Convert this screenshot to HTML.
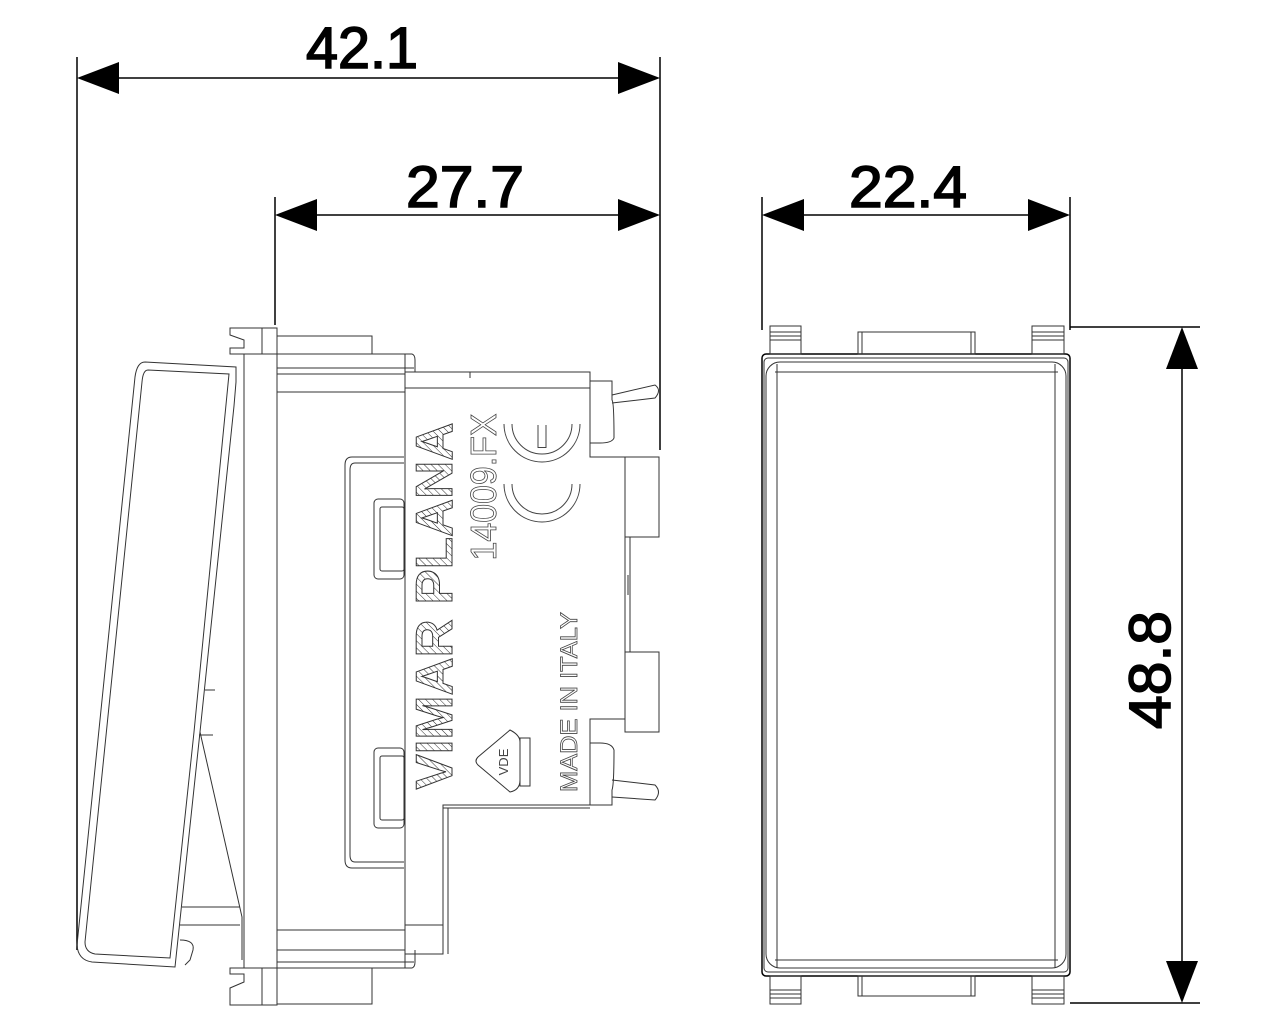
<!DOCTYPE html>
<html><head><meta charset="utf-8"><style>html,body{margin:0;padding:0;background:#fff}svg{display:block}</style></head>
<body>
<svg width="1280" height="1024" viewBox="0 0 1280 1024" xmlns="http://www.w3.org/2000/svg">
<defs>
<pattern id="h" width="5" height="5" patternUnits="userSpaceOnUse" patternTransform="rotate(45)"><rect width="5" height="5" fill="#fff"/><line x1="0" y1="0" x2="0" y2="5" stroke="#333" stroke-width="1"/></pattern>
</defs>
<g stroke="#000" stroke-width="1.5" fill="none">
<line x1="77" y1="57" x2="77" y2="950"/><line x1="660" y1="57" x2="660" y2="450"/>
<line x1="100" y1="78" x2="640" y2="78"/>
<line x1="275" y1="197" x2="275" y2="325"/>
<line x1="300" y1="215" x2="640" y2="215"/>
<line x1="762" y1="197" x2="762" y2="330"/><line x1="1070" y1="197" x2="1070" y2="330"/>
<line x1="790" y1="215" x2="1040" y2="215"/>
<line x1="1070" y1="327" x2="1200" y2="327"/><line x1="1070" y1="1003" x2="1200" y2="1003"/>
<line x1="1182" y1="350" x2="1182" y2="980"/>
</g>
<g fill="#000">
<polygon points="77,78 119,62 119,94"/><polygon points="660,78 618,62 618,94"/>
<polygon points="275,215 317,199 317,231"/><polygon points="660,215 618,199 618,231"/>
<polygon points="762,215 804,199 804,231"/><polygon points="1070,215 1028,199 1028,231"/>
<polygon points="1182,327 1166,369 1198,369"/><polygon points="1182,1003 1166,961 1198,961"/>
</g>
<g font-family="Liberation Sans, sans-serif" font-size="58" fill="#000" stroke="#000" stroke-width="1.6">
<text x="362" y="68" text-anchor="middle" textLength="112" lengthAdjust="spacingAndGlyphs">42.1</text>
<text x="465" y="207" text-anchor="middle" textLength="118" lengthAdjust="spacingAndGlyphs">27.7</text>
<text x="908" y="207" text-anchor="middle" textLength="118" lengthAdjust="spacingAndGlyphs">22.4</text>
<text transform="translate(1170,670) rotate(-90)" x="0" y="0" text-anchor="middle" textLength="118" lengthAdjust="spacingAndGlyphs">48.8</text>
</g>

<!-- LEFT VIEW -->
<g stroke="#333" stroke-width="1" fill="none">
<path d="M145,362 L236,367 L236,382 L234,406 L200,732 L175,967 L92,962 Q78,960 77,945 L135,377 Q137,362 145,362 Z"/>
<path d="M148,370 L229,374 L194,732 L170,958 L95,954 Q85,952 85,942 L142,382 Q143,370 148,370Z"/>
<path d="M200,732 L242,917 L242,960"/>
<line x1="205" y1="690" x2="215" y2="690"/><line x1="199" y1="735" x2="213" y2="735"/>
<path d="M182,907 L240,907 M180,925 L240,925"/>
<path d="M180,940 Q195,940 193,950 L190,960 L185,965"/>
<rect x="244" y="354" width="33" height="614"/>
<path d="M244,354 L230,354 L230,348 L244,348 L244,340 L230,335 L230,328 L277,328 L277,354"/>
<path d="M244,968 L230,968 L230,974 L244,974 L244,982 L230,988 L230,1005 L277,1005 L277,968"/>
<line x1="262" y1="328" x2="262" y2="354"/><line x1="262" y1="968" x2="262" y2="1005"/>
<rect x="277" y="354" width="128" height="614"/>
<line x1="277" y1="368" x2="414" y2="368"/><line x1="277" y1="374" x2="405" y2="374"/>
<line x1="277" y1="392" x2="405" y2="392"/><line x1="277" y1="930" x2="405" y2="930"/>
<line x1="277" y1="950" x2="405" y2="950"/><line x1="277" y1="962" x2="414" y2="962"/>
<rect x="277" y="336" width="95" height="18"/><rect x="277" y="968" width="95" height="36"/>
<path d="M372,354 L412,354 Q415,355 415,360 L415,372"/><path d="M372,968 L412,968 Q415,967 415,962 L415,950"/>
<path d="M404,457 L352,457 Q345,457 345,465 L345,860 Q345,868 352,868 L404,868"/>
<path d="M404,463 L355,463 Q350,463 350,470 L350,855 Q350,862 355,862 L404,862"/>
<rect x="374" y="499" width="30" height="80" rx="4"/><rect x="380" y="507" width="24" height="64" rx="2"/>
<rect x="374" y="748" width="30" height="80" rx="4"/><rect x="380" y="756" width="24" height="64" rx="2"/>
<path d="M405,372 L590,372 L590,457 L625,457 L625,719 L590,719 L590,805 L443,805 L443,954 L405,954 Z"/>
<line x1="405" y1="388" x2="590" y2="388"/><line x1="443" y1="808" x2="590" y2="808"/>
<line x1="443" y1="925" x2="405" y2="925"/><line x1="448" y1="808" x2="448" y2="954"/>
<line x1="470" y1="372" x2="470" y2="378"/>
<rect x="625" y="457" width="34" height="80"/><rect x="625" y="652" width="34" height="80"/>
<line x1="630" y1="537" x2="630" y2="652"/><line x1="628" y1="575" x2="628" y2="595"/>
<path d="M590,381 L612,381 L612,400 Q614,402 614,438 Q612,443 600,443 L590,443"/>
<path d="M612,395 L655,385 Q662,390 655,398 L612,403"/>
<path d="M590,805 L612,805 L612,790 Q614,785 614,750 Q612,743 600,743 L590,743"/>
<path d="M612,780 L655,785 Q662,792 655,800 L612,797"/>
<path d="M510,730 Q520,735 520,742 L520,780 Q520,790 510,792 L478,765 Q474,761 478,757 Z"/>
<rect x="520" y="738" width="10" height="48"/>
</g>
<!-- CE mark -->
<g fill="none">
<path d="M508,484 A34,34 0 0 0 576,484" stroke="#444" stroke-width="9"/>
<path d="M508,484 A34,34 0 0 0 576,484" stroke="#fff" stroke-width="7"/>
<path d="M508,424 A34,34 0 0 0 576,424" stroke="#444" stroke-width="9"/>
<path d="M508,424 A34,34 0 0 0 576,424" stroke="#fff" stroke-width="7"/>
<path d="M542,425 L542,448" stroke="#444" stroke-width="9"/>
<path d="M542,424 L542,447" stroke="#fff" stroke-width="7"/>
</g>
<g font-family="Liberation Sans, sans-serif">
<text transform="translate(452,606) rotate(-90)" text-anchor="middle" font-weight="bold" font-size="52" textLength="367" lengthAdjust="spacingAndGlyphs" fill="url(#h)" stroke="#333" stroke-width="1">VIMAR PLANA</text>
<text transform="translate(496,487) rotate(-90)" text-anchor="middle" font-size="36" textLength="147" lengthAdjust="spacingAndGlyphs" fill="none" stroke="#444" stroke-width="0.8">14009.FX</text>
<text transform="translate(577,702) rotate(-90)" text-anchor="middle" font-size="24" textLength="180" lengthAdjust="spacingAndGlyphs" fill="none" stroke="#444" stroke-width="0.8">MADE IN ITALY</text>
<text transform="translate(508,762) rotate(-90)" text-anchor="middle" font-size="13" fill="#444">VDE</text>
</g>

<!-- RIGHT VIEW -->
<g stroke="#333" stroke-width="1" fill="none">
<rect x="762" y="354" width="308" height="622" rx="4" stroke="#000" stroke-width="1.5"/>
<rect x="764" y="358" width="304" height="614" rx="4"/>
<rect x="766" y="362" width="300" height="606" rx="14"/>
<line x1="775" y1="372" x2="1058" y2="372"/><line x1="775" y1="960" x2="1058" y2="960"/>
<line x1="777" y1="364" x2="777" y2="968"/><line x1="1055" y1="364" x2="1055" y2="968"/>
<rect x="770" y="326" width="31" height="28"/><line x1="770" y1="332" x2="801" y2="332"/><line x1="770" y1="336" x2="801" y2="336"/><line x1="770" y1="340" x2="801" y2="340"/>
<rect x="1032" y="326" width="32" height="28"/><line x1="1032" y1="332" x2="1064" y2="332"/><line x1="1032" y1="336" x2="1064" y2="336"/><line x1="1032" y1="340" x2="1064" y2="340"/>
<rect x="858" y="332" width="117" height="22"/><line x1="862" y1="332" x2="862" y2="354"/><line x1="971" y1="332" x2="971" y2="354"/>
<rect x="770" y="976" width="31" height="28"/><line x1="770" y1="990" x2="801" y2="990"/><line x1="770" y1="994" x2="801" y2="994"/><line x1="770" y1="998" x2="801" y2="998"/>
<rect x="1032" y="976" width="32" height="28"/><line x1="1032" y1="990" x2="1064" y2="990"/><line x1="1032" y1="994" x2="1064" y2="994"/><line x1="1032" y1="998" x2="1064" y2="998"/>
<rect x="858" y="976" width="117" height="20"/><line x1="862" y1="976" x2="862" y2="996"/><line x1="971" y1="976" x2="971" y2="996"/>
</g>
</svg>
</body></html>
